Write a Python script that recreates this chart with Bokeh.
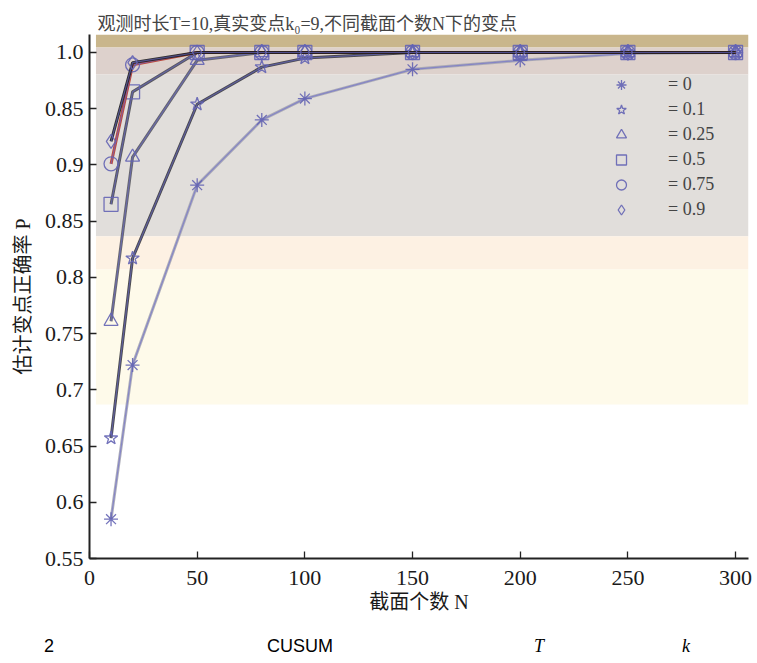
from bokeh.plotting import figure
from bokeh.models import BoxAnnotation, Legend, LegendItem, FixedTicker, Div, Range1d
from bokeh.layouts import column
from bokeh.embed import file_html
from bokeh.resources import INLINE

# ---- data ----
N = [10, 20, 50, 80, 100, 150, 200, 250, 300]
p_0 = [0.585, 0.722, 0.882, 0.940, 0.959, 0.985, 0.993, 0.999, 1.0]
p_01 = [0.657, 0.817, 0.954, 0.987, 0.995, 1.0, 1.0, 1.0, 1.0]
p_025 = [0.761, 0.907, 0.993, 1.0, 1.0, 1.0, 1.0, 1.0, 1.0]
p_05 = [0.865, 0.965, 1.0, 1.0, 1.0, 1.0, 1.0, 1.0, 1.0]
p_075 = [0.901, 0.989, 1.0, 1.0, 1.0, 1.0, 1.0, 1.0, 1.0]
p_09 = [0.921, 0.991, 1.0, 1.0, 1.0, 1.0, 1.0, 1.0, 1.0]
labels = ["= 0", "= 0.1", "= 0.25", "= 0.5", "= 0.75", "= 0.9"]
markers = ["asterisk", "star", "triangle", "square", "circle", "diamond"]
line_colors = ["#a6a6b2", "#3a3a3e", "#5a5a60", "#4a4a50", "#b8382a", "#1e1e1e"]
series = [p_0, p_01, p_025, p_05, p_075, p_09]

y_ticks = [0.55, 0.6, 0.65, 0.7, 0.75, 0.8, 0.85, 0.9, 0.95, 1.0]
y_tick_text = ["0.55", "0.6", "0.65", "0.7", "0.75", "0.8", "0.85", "0.9", "0.85", "1.0"]
x_ticks = [0, 50, 100, 150, 200, 250, 300]

title_text = "观测时长T=10,真实变点k₀=9,不同截面个数N下的变点"

SERIF = "Liberation Serif, Noto Sans CJK SC"

p = figure(frame_width=659, frame_height=524, output_backend="svg",
           toolbar_location=None, x_range=Range1d(0, 306), y_range=Range1d(0.55, 1.016),
           min_border_left=89, min_border_right=4, min_border_top=34)
p.title.text = title_text
p.title.text_font = SERIF
p.title.text_font_size = "18px"
p.title.text_font_style = "normal"
p.title.offset = 8
p.title.standoff = 2

p.background_fill_color = "white"
p.outline_line_color = None
p.grid.visible = False

# background bands (scan artefacts of the reference)
bands = [(1.0045, 1.016, "#c9b68c"), (0.9805, 1.0045, "#ddd1cc"), (0.8365, 0.9805, "#e1dedb"),
         (0.807, 0.8365, "#fdf1e3"), (0.687, 0.807, "#fefaea")]
for b, t, c in bands:
    p.add_layout(BoxAnnotation(left=3, right=306, bottom=b, top=t, fill_color=c,
                               fill_alpha=1.0, line_alpha=0, level="underlay"))

items = []
for ys, m, lc, lab in zip(series, markers, line_colors, labels):
    p.line(N, ys, line_color=lc, line_width=3, line_alpha=0.9)
    p.line(N, ys, line_color="#6a6ad0", line_width=1.2, line_alpha=0.6)
    r = p.scatter(N, ys, marker=m, size=14, fill_color=None,
                  line_color="#6464b4", line_width=1.3, line_alpha=0.9)
    items.append(LegendItem(label=lab, renderers=[r]))

legend = Legend(items=items, location=(518, 336), background_fill_alpha=0,
                border_line_alpha=0, padding=0, margin=0, spacing=0,
                label_text_font=SERIF, label_text_font_size="18px",
                glyph_width=28, glyph_height=25, label_height=25, label_standoff=33)
p.add_layout(legend, "center")

for ax in (p.xaxis, p.yaxis):
    ax.axis_line_width = 2
    ax.axis_line_color = "#222222"
    ax.major_tick_in = 7
    ax.major_tick_out = 0
    ax.minor_tick_line_color = None
    ax.major_tick_line_color = "#222222"
    ax.major_tick_line_width = 1.3
    ax.major_label_text_font = SERIF
    ax.major_label_text_font_size = "22px"
    ax.major_label_text_color = "#1a1a1a"
    ax.axis_label_text_font = SERIF
    ax.axis_label_text_font_size = "20px"
    ax.axis_label_text_font_style = "normal"
    ax.axis_label_text_color = "#1a1a1a"

p.xaxis.ticker = FixedTicker(ticks=x_ticks)
p.yaxis.ticker = FixedTicker(ticks=y_ticks)
p.yaxis.major_label_overrides = {t: s for t, s in zip(y_ticks, y_tick_text)}
p.xaxis.axis_label = "截面个数 N"
p.yaxis.axis_label = "估计变点正确率 P"
p.xaxis.major_label_standoff = 12
p.yaxis.major_label_standoff = 6
p.xaxis.axis_label_standoff = 3
p.yaxis.axis_label_standoff = 8

caption = Div(text=(
    '<div style="position:relative;width:745px;height:36px;font-size:18px;">'
    '<span style="position:absolute;left:39px;top:14px;font-family:Liberation Sans;">2</span>'
    '<span style="position:absolute;left:262px;top:14px;font-family:Liberation Sans;">CUSUM</span>'
    '<span style="position:absolute;left:529px;top:14px;font-family:Liberation Serif;font-style:italic;">T</span>'
    '<span style="position:absolute;left:677px;top:14px;font-family:Liberation Serif;font-style:italic;">k</span>'
    '</div>'), width=745, height=36)

layout = column(p, caption)
open("out.html", "w").write(file_html(layout, INLINE))
